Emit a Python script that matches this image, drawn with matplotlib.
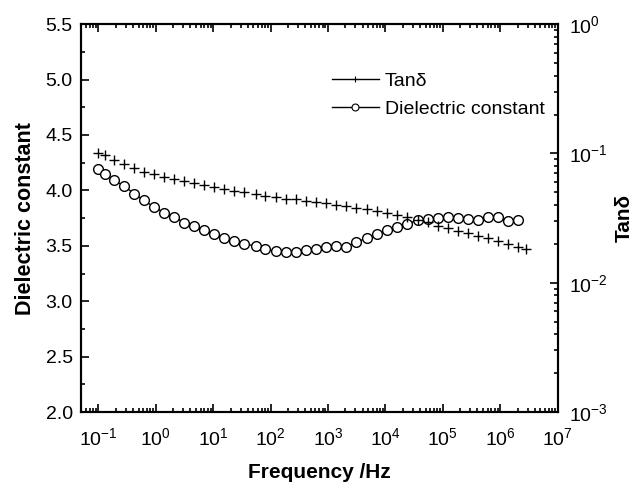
import matplotlib
matplotlib.use('Agg')
import matplotlib.pyplot as plt
from matplotlib.lines import Line2D
from matplotlib.ticker import MultipleLocator, LogLocator, NullFormatter, FormatStrFormatter, FixedLocator

plt.rcParams['font.family'] = ['Liberation Sans', 'DejaVu Sans']
plt.rcParams['mathtext.fontset'] = 'custom'
plt.rcParams['mathtext.rm'] = 'Liberation Sans'
plt.rcParams['mathtext.it'] = 'Liberation Sans'

# frequency (Hz)
freq = [0.1, 0.129, 0.186, 0.282, 0.417, 0.617, 0.933, 1.38, 2.09, 3.09,
        4.68, 6.92, 10.2, 15.5, 22.9, 34.7, 55, 81, 123, 182,
        275, 407, 617, 912, 1350, 2040, 3020, 4680, 7080, 10500,
        15800, 24000, 36300, 55000, 83200, 123000, 186000, 275000, 407000, 617000,
        912000, 1380000, 2040000]
freq_tan = freq + [2820000]

dielectric = [4.19, 4.15, 4.09, 4.04, 3.97, 3.91, 3.85, 3.80, 3.76, 3.71,
              3.68, 3.64, 3.61, 3.57, 3.54, 3.515, 3.50, 3.47, 3.45, 3.44,
              3.44, 3.46, 3.47, 3.49, 3.50, 3.49, 3.53, 3.57, 3.61, 3.64,
              3.67, 3.70, 3.73, 3.74, 3.75, 3.76, 3.75, 3.74, 3.73, 3.76,
              3.76, 3.72, 3.73]

tan_delta = [0.1012, 0.0970, 0.0887, 0.0826, 0.0766, 0.0721, 0.0692, 0.0659, 0.0630, 0.0614,
             0.0586, 0.0569, 0.0546, 0.0527, 0.0514, 0.0500, 0.0485, 0.0468, 0.0457, 0.0446,
             0.0441, 0.0431, 0.0421, 0.0415, 0.0401, 0.0392, 0.0380, 0.0372, 0.0360, 0.0348,
             0.0333, 0.0320, 0.0305, 0.0296, 0.0274, 0.0263, 0.0252, 0.0241, 0.0231, 0.0220,
             0.0211, 0.0198, 0.0190, 0.0181]

x_ticks = [1e-1, 1e0, 1e1, 1e2, 1e3, 1e4, 1e5, 1e6, 1e7]
x_ticklabels = ['$10^{-1}$', '$10^{0}$', '$10^{1}$', '$10^{2}$', '$10^{3}$',
                '$10^{4}$', '$10^{5}$', '$10^{6}$', '$10^{7}$']
tan_ticks = [1e-3, 1e-2, 1e-1, 1e0]
tan_ticklabels = ['$10^{-3}$', '$10^{-2}$', '$10^{-1}$', '$10^{0}$']

fig = plt.figure(figsize=(6.44, 4.82), dpi=100)
ax = fig.add_axes([0.126, 0.145, 0.740, 0.805])
ax2 = ax.twinx()

# dielectric constant - circles joined by a thin line
ax.plot(freq, dielectric, color='black', lw=1.0, marker='o', markersize=7,
        markerfacecolor='white', markeredgecolor='black', markeredgewidth=1.0)
# tan delta - plus markers only
ax2.plot(freq_tan, tan_delta, linestyle='none', marker='+', markersize=7.5,
         color='black', markeredgewidth=1.0)

ax.set_xscale('log')
ax.set_xlim(0.05, 1e7)
ax.set_ylim(2.0, 5.5)
ax.yaxis.set_major_locator(MultipleLocator(0.5))
ax.yaxis.set_minor_locator(MultipleLocator(0.25))
ax.set_xticks(x_ticks, x_ticklabels)
minor_x = [m * 10.0 ** e for e in range(-2, 7) for m in range(2, 10) if 0.05 <= m * 10.0 ** e <= 1e7]
ax.xaxis.set_minor_locator(FixedLocator(minor_x))
ax.xaxis.set_minor_formatter(NullFormatter())
ax.yaxis.set_major_formatter(FormatStrFormatter('%.1f'))

ax2.set_yscale('log')
ax2.set_ylim(1e-3, 1)
ax2.set_yticks(tan_ticks, tan_ticklabels)
minor_y = [m * 10.0 ** e for e in range(-3, 0) for m in range(2, 10)]
ax2.yaxis.set_minor_locator(FixedLocator(minor_y))
ax2.yaxis.set_minor_formatter(NullFormatter())

# ticks inward everywhere
ax.tick_params(which='both', direction='in', top=True, right=False, labelsize=14, width=1.2)
ax.tick_params(which='major', length=6)
ax.tick_params(which='minor', length=3)
ax2.tick_params(which='both', direction='in', labelsize=14, width=1.2, pad=8)
ax2.tick_params(which='major', length=6)
ax2.tick_params(which='minor', length=3)
ax.tick_params(axis='x', pad=11)
ax.tick_params(axis='y', pad=6)

for a in (ax, ax2):
    for s in a.spines.values():
        s.set_linewidth(1.5)

ax.set_xlabel('Frequency /Hz', fontsize=15, fontweight='bold', labelpad=10)
ax.set_ylabel('Dielectric constant', fontsize=15.5, fontweight='bold', labelpad=7)
ax2.set_ylabel('Tanδ', fontsize=15, fontweight='bold', labelpad=5)

handles = [
    Line2D([], [], color='black', lw=1.0, marker='+', markersize=5, markeredgewidth=0.8),
    Line2D([], [], color='black', lw=1.0, marker='o', markersize=5,
           markerfacecolor='white', markeredgewidth=0.8),
]
ax.legend(handles, ['Tanδ', 'Dielectric constant'], loc='upper left',
          bbox_to_anchor=(0.49, 0.92), frameon=False, fontsize=14,
          handlelength=2.4, handletextpad=0.3, labelspacing=0.5)

fig.savefig('out.png', dpi=100)
